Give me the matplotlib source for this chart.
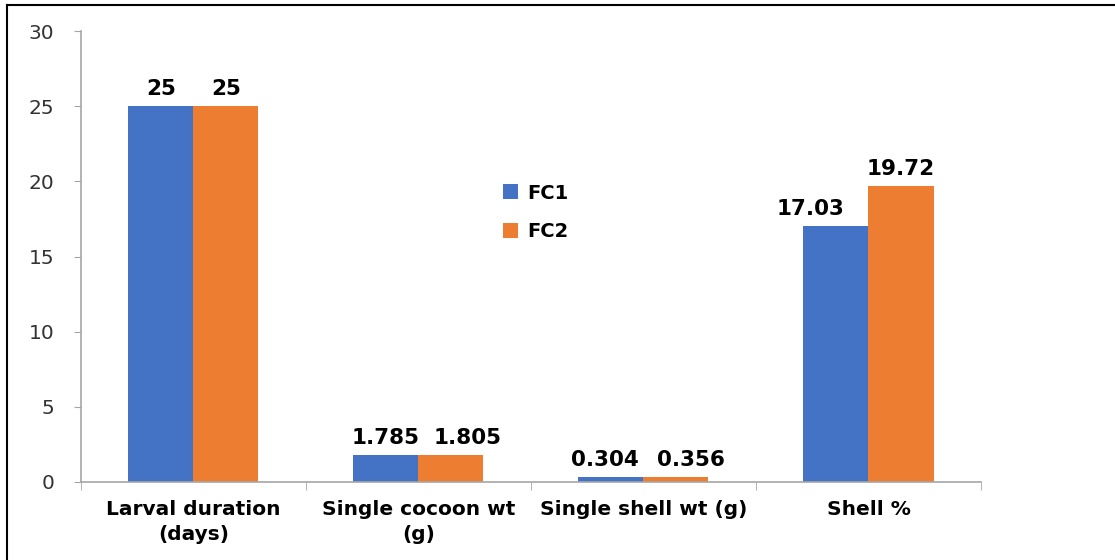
import numpy as np
import matplotlib.pyplot as plt
from matplotlib.lines import Line2D

plt.rcParams['font.family'] = ['DejaVu Sans']

# data
categories = ['Larval duration\n(days)', 'Single cocoon wt\n(g)', 'Single shell wt (g)', 'Shell %']
fc1 = [25, 1.785, 0.304, 17.03]
fc2 = [25, 1.805, 0.356, 19.72]
fc1_labels = ['25', '1.785', '0.304', '17.03']
fc2_labels = ['25', '1.805', '0.356', '19.72']

blue = '#4472C4'
orange = '#ED7D31'
grey = '#A6A6A6'

fig = plt.figure(figsize=(11.15, 5.6), dpi=100)
ax = fig.add_axes([0.0726, 0.1393, 0.8072, 0.8053])

x = np.arange(len(categories))
w = 0.289
b1 = ax.bar(x - w / 2, fc1, w, color=blue, label='FC1')
b2 = ax.bar(x + w / 2, fc2, w, color=orange, label='FC2')

# value labels (small sideways nudges like the original)
nudge1 = [0, 0, -6, -25]
nudge2 = [0, 17, 15, 0]
for rect, lab, dx in zip(b1, fc1_labels, nudge1):
    ax.annotate(lab, (rect.get_x() + rect.get_width() / 2, rect.get_height()),
                xytext=(dx * 0.72, 5), textcoords='offset points',
                ha='center', va='bottom', fontsize=15.5, fontweight='bold')
for rect, lab, dx in zip(b2, fc2_labels, nudge2):
    ax.annotate(lab, (rect.get_x() + rect.get_width() / 2, rect.get_height()),
                xytext=(dx * 0.72, 5), textcoords='offset points',
                ha='center', va='bottom', fontsize=15.5, fontweight='bold')

ax.set_xlim(-0.5, len(categories) - 0.5)
ax.set_ylim(0, 30)
ax.set_yticks(range(0, 31, 5))
ax.tick_params(axis='y', labelsize=14.5, colors=grey, labelcolor='#333333', length=5, pad=14)

# category labels and ticks between groups
ax.set_xticks(x)
ax.set_xticklabels(categories, fontsize=14.5, fontweight='bold', linespacing=1.4)
ax.tick_params(axis='x', length=0, pad=13)
ax.set_xticks(np.arange(-0.5, len(categories)), minor=True)
ax.tick_params(axis='x', which='minor', length=6, color=grey)

for s in ['top', 'right']:
    ax.spines[s].set_visible(False)
for s in ['left', 'bottom']:
    ax.spines[s].set_color(grey)
    ax.spines[s].set_linewidth(1.2)

leg = ax.legend(loc='upper left', bbox_to_anchor=(485 / 1115, 1 - 166 / 560),
                bbox_transform=fig.transFigure, frameon=False,
                handlelength=0.8, handleheight=0.8, handletextpad=0.45,
                labelspacing=1.0, prop={'weight': 'bold', 'size': 14})

# outer border lines (top and left)
fig.add_artist(Line2D([7 / 1115, 1], [1 - 5 / 560, 1 - 5 / 560], color='black', lw=1.5,
                      transform=fig.transFigure))
fig.add_artist(Line2D([7 / 1115, 7 / 1115], [0, 1 - 5 / 560], color='black', lw=1.5,
                      transform=fig.transFigure))

fig.savefig('out.png', dpi=100)
